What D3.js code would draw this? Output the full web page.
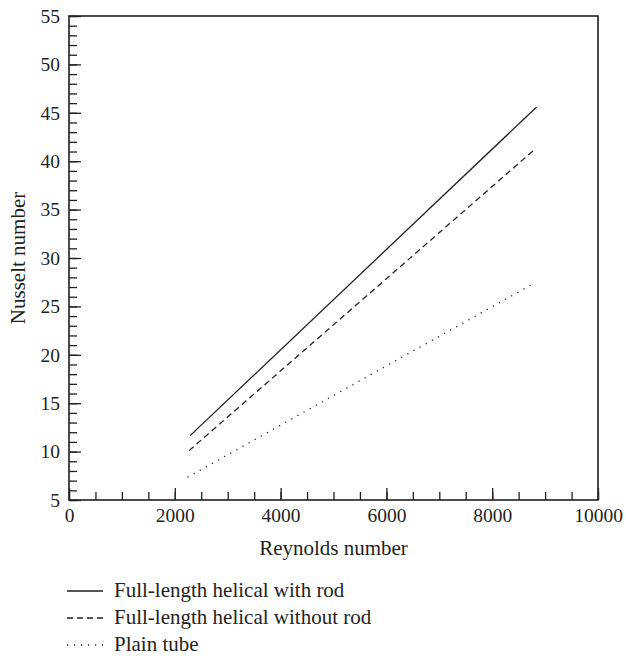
<!DOCTYPE html>
<html>
<head>
<meta charset="utf-8">
<script src="https://cdn.jsdelivr.net/npm/d3@7"></script>
<style>
  html, body { margin: 0; padding: 0; background: #fff; }
  svg { display: block; }
  text { font-family: "Liberation Serif", "Times New Roman", serif; fill: #231f20; }
</style>
</head>
<body>
<svg id="chart" width="626" height="656"></svg>
<script>
// ---- data ----
const seriesNames = ["Full-length helical with rod", "Full-length helical without rod", "Plain tube"];
const withRod = [[2290, 11.65], [8840, 45.6]];
const withoutRod = [[2270, 10.1], [8780, 41.1]];
const plainTube = [[2240, 7.35], [8730, 27.2]];
const xMajorTicks = [0, 2000, 4000, 6000, 8000, 10000];
const yMajorTicks = [5, 10, 15, 20, 25, 30, 35, 40, 45, 50, 55];
const xTitle = "Reynolds number";
const yTitle = "Nusselt number";

// ---- layout ----
const L = 69, R = 598, T = 16, B = 500;
const ink = "#231f20";
const svg = d3.select("#chart");

const x = d3.scaleLinear().domain([0, 10000]).range([L, R]);
const y = d3.scaleLinear().domain([5, 55]).range([B, T]);

const xMinor = d3.range(0, 10001, 500);
const yMinor = d3.range(5, 56, 1);

function styleAxis(g) {
  g.select(".domain").remove();
  g.selectAll("line").attr("stroke", ink).attr("stroke-width", 1.3);
  g.selectAll("text").attr("font-size", 19.5).attr("fill", ink)
    .style("font-family", '"Liberation Serif", serif');
}

// minor ticks
svg.append("g").attr("transform", `translate(0,${B})`)
  .call(d3.axisBottom(x).tickValues(xMinor).tickSize(-8).tickFormat(""))
  .call(styleAxis);
svg.append("g").attr("transform", `translate(${L},0)`)
  .call(d3.axisLeft(y).tickValues(yMinor).tickSize(-8).tickFormat(""))
  .call(styleAxis);

// major ticks with labels
svg.append("g").attr("transform", `translate(0,${B})`)
  .call(d3.axisBottom(x).tickValues(xMajorTicks).tickSize(-12).tickPadding(8).tickFormat(d3.format("d")))
  .call(styleAxis);
svg.append("g").attr("transform", `translate(${L},0)`)
  .call(d3.axisLeft(y).tickValues(yMajorTicks).tickSize(-12).tickPadding(9).tickFormat(d3.format("d")))
  .call(styleAxis);

// frame
svg.append("rect")
  .attr("x", x(0)).attr("y", y(55))
  .attr("width", x(10000) - x(0)).attr("height", y(5) - y(55))
  .attr("fill", "none").attr("stroke", ink).attr("stroke-width", 1.6);

// titles
svg.append("text")
  .attr("x", (L + R) / 2).attr("y", 555)
  .attr("text-anchor", "middle").attr("font-size", 21)
  .text(xTitle);
svg.append("text")
  .attr("transform", `translate(25,${(T + B) / 2}) rotate(-90)`)
  .attr("text-anchor", "middle").attr("font-size", 21)
  .text(yTitle);

// series
const dashes = [null, "6,4", "1.2,5.8"];
const seriesData = [withRod, withoutRod, plainTube];
const line = d3.line().x(d => x(d[0])).y(d => y(d[1]));

svg.append("g").selectAll("path")
  .data(seriesData)
  .join("path")
  .attr("d", line)
  .attr("fill", "none")
  .attr("stroke", ink)
  .attr("stroke-width", 1.3)
  .attr("stroke-dasharray", (d, i) => dashes[i]);

// legend
const leg = svg.append("g");
seriesNames.forEach((name, i) => {
  const yy = 591 + i * 27;
  leg.append("line")
    .attr("x1", 67).attr("x2", 103)
    .attr("y1", yy).attr("y2", yy)
    .attr("stroke", ink).attr("stroke-width", 1.3)
    .attr("stroke-dasharray", dashes[i]);
  leg.append("text")
    .attr("x", 114).attr("y", yy + 6.3)
    .attr("font-size", 21)
    .text(name);
});
</script>
</body>
</html>
